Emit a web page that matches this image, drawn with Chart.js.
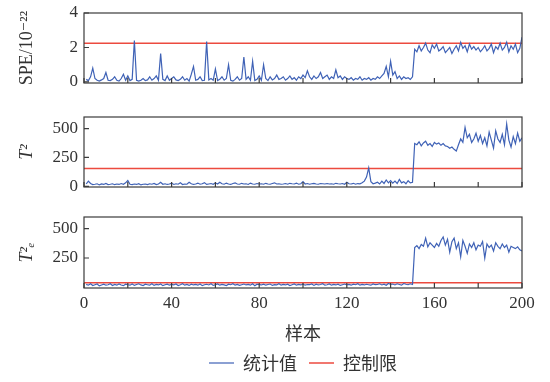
<!DOCTYPE html>
<html>
<head>
<meta charset="utf-8">
<script src="https://cdn.jsdelivr.net/npm/chart.js@4.4.1/dist/chart.umd.min.js"></script>
<style>
  body { margin: 0; background: #fff; width: 550px; height: 382px; overflow: hidden; position: relative; }
  canvas { position: absolute; left: 0; }
</style>
</head>
<body>
<canvas id="cSPE" width="550" height="100" style="top:0"></canvas>
<canvas id="cT2" width="550" height="100" style="top:100px"></canvas>
<canvas id="cT2e" width="550" height="182" style="top:200px"></canvas>
<script>
// === Data ===
const samples = Array.from({ length: 200 }, (_, i) => i + 1);
const xTicks = [0, 20, 40, 60, 80, 100, 120, 140, 160, 180, 200];

const speTicks = [0, 2, 4];
const t2Ticks = [0, 250, 500];
const t2eTicks = [250, 500];

const speLimit = 2.25;
const t2Limit = 155;
const t2eLimit = 38;

const speValues = [
  0.15, 0.08, 0.3, 0.8, 0.2, 0.1, 0.05, 0.12, 0.2, 0.55,
  0.1, 0.08, 0.15, 0.3, 0.1, 0.05, 0.2, 0.45, 0.1, 0.35,
  0.08, 0.15, 2.4, 0.1, 0.05, 0.1, 0.2, 0.08, 0.12, 0.3,
  0.1, 0.2, 0.35, 0.1, 1.65, 0.15, 0.08, 0.35, 0.1, 0.2,
  0.3, 0.12, 0.08, 0.15, 0.3, 0.1, 0.2, 0.05, 0.45, 0.9,
  0.1, 0.15, 0.3, 0.08, 0.1, 2.35, 0.12, 0.2, 0.1, 0.75,
  0.08, 0.15, 0.3, 0.1, 0.2, 1.0, 0.1, 0.05, 0.15, 0.3,
  0.1, 0.2, 1.45, 0.15, 0.3, 0.1, 1.2, 0.08, 0.15, 0.35,
  0.1, 1.0, 0.2, 0.08, 0.3, 0.12, 0.2, 0.4, 0.15, 0.2,
  0.3, 0.1, 0.2, 0.35, 0.15, 0.25, 0.1, 0.3, 0.2, 0.4,
  0.25, 0.65, 0.3, 0.15, 0.35, 0.2, 0.3, 0.55, 0.2, 0.3,
  0.4, 0.15, 0.3, 0.2, 0.7, 0.25, 0.35, 0.15, 0.3, 0.2,
  0.15, 0.25, 0.1, 0.2, 0.15, 0.3, 0.1, 0.2, 0.15, 0.25,
  0.1, 0.2, 0.15, 0.3, 0.2, 0.35, 0.5, 0.9, 0.3, 1.2,
  0.4, 0.6, 0.2, 0.35, 0.15, 0.3, 0.2, 0.25, 0.15, 0.3,
  1.9, 1.75, 2.1, 1.8, 2.0, 2.25, 1.85, 1.7, 2.15, 1.95,
  2.2, 1.8, 1.9, 2.05, 1.7, 1.85, 2.0, 1.65, 1.9, 2.1,
  1.8, 2.3, 1.95, 2.1, 1.75, 2.2, 1.9, 2.05, 1.85, 2.0,
  1.75, 1.9, 2.1, 1.8, 1.95, 2.2, 1.7, 2.05, 1.9, 2.25,
  1.85, 2.0, 2.3, 1.75, 2.1, 1.9, 2.2, 1.7, 1.95, 2.6
];

const t2Values = [
  20, 45, 25, 15, 18, 22, 12, 20, 16, 25,
  15, 18, 22, 14, 20, 16, 24, 18, 30, 50,
  18, 14, 20, 16, 22, 12, 18, 20, 15, 22,
  18, 25, 15, 20, 35, 18, 22, 16, 20, 28,
  16, 22, 18, 30, 15, 20, 18, 35, 22, 16,
  20, 28, 18, 22, 32, 16, 20, 24, 18, 30,
  20, 35, 22, 18, 28, 20, 16, 24, 30, 20,
  18, 26, 20, 22, 16, 28, 20, 18, 24, 20,
  22, 18, 26, 20, 18, 24, 30, 20, 22, 18,
  20, 24, 18, 26, 22, 20, 28, 18, 22, 40,
  20, 24, 18, 22, 26, 20, 18, 24, 22, 20,
  24, 20, 22, 18, 26, 22, 20, 24, 18, 35,
  22, 20, 26, 18, 24, 22, 30, 45, 80, 160,
  40, 22, 28, 35, 20, 45, 25, 55, 30, 50,
  28, 45, 25, 60, 30, 40, 22, 48, 30, 35,
  370, 360, 385, 350, 375, 390, 355, 370, 345, 380,
  365, 375, 355, 370, 350, 345, 330, 340, 320, 305,
  360, 410, 380, 510, 420, 450, 380, 410, 460, 390,
  440, 370, 420, 350, 470, 400, 330, 480, 410, 380,
  450, 360, 540, 400, 340, 430, 370, 460, 390, 420
];

const t2eValues = [
  25, 18, 30, 15, 22, 28, 12, 20, 26, 18,
  22, 30, 15, 24, 18, 28, 20, 14, 26, 22,
  18, 28, 16, 24, 30, 20, 15, 26, 22, 18,
  30, 16, 24, 20, 28, 14, 22, 26, 18, 24,
  20, 28, 15, 22, 30, 18, 24, 16, 26, 20,
  24, 18, 28, 14, 22, 26, 20, 30, 16, 22,
  28, 18, 24, 20, 15, 26, 22, 30, 18, 24,
  16, 22, 28, 20, 24, 18, 30, 14, 26, 22,
  20, 26, 18, 24, 28, 16, 22, 20, 30, 18,
  24, 20, 26, 15, 22, 28, 18, 24, 20, 26,
  18, 24, 22, 28, 16, 26, 20, 24, 30, 18,
  22, 28, 18, 24, 20, 26, 16, 22, 28, 20,
  24, 18, 26, 22, 30, 18, 24, 20, 26, 22,
  18, 28, 22, 24, 30, 20, 26, 18, 32, 24,
  28, 20, 30, 24, 18, 32, 26, 22, 30, 24,
  340, 355, 330, 365, 350, 420, 345, 380, 360, 340,
  375, 350, 400, 430, 360, 410, 300, 390, 420, 330,
  380, 260, 400, 350, 290, 370, 340, 380, 320, 360,
  350, 390, 250, 370, 340, 360, 310, 380, 350, 330,
  370, 340, 360, 300, 350, 340, 330, 345, 320, 310
];

// === Style ===
Chart.defaults.font.family = "'Liberation Serif', 'DejaVu Serif', serif";
Chart.defaults.color = '#333';
const BLUE = '#3f62b6';
const RED = '#ec4a3f';
const CJK = "'Noto Sans CJK SC', sans-serif";

// frame and inward ticks
const frameTicks = {
  id: 'frameTicks',
  afterDatasetsDraw(chart) {
    const { ctx, chartArea: a, scales: { x, y } } = chart;
    ctx.save();
    ctx.strokeStyle = '#3b3b3b';
    ctx.lineWidth = 1.2;
    ctx.strokeRect(a.left, a.top, a.width, a.height);
    ctx.beginPath();
    xTicks.forEach(v => {
      const px = x.getPixelForValue(v);
      ctx.moveTo(px, a.bottom);
      ctx.lineTo(px, a.bottom - 5);
    });
    y.ticks.forEach(t => {
      const py = y.getPixelForValue(t.value);
      ctx.moveTo(a.left, py);
      ctx.lineTo(a.left + 5, py);
    });
    ctx.stroke();
    ctx.restore();
  }
};

function makePanel(canvasId, values, limit, yMin, yMax, yTicks, yTitle, italic, padding, bottom) {
  const ctx = document.getElementById(canvasId).getContext('2d');
  return new Chart(ctx, {
    type: 'line',
    data: {
      datasets: [
        {
          label: '统计值',
          data: samples.map((s, i) => ({ x: s, y: values[i] })),
          borderColor: BLUE, borderWidth: 1.2, pointRadius: 0, tension: 0
        },
        {
          label: '控制限',
          data: [{ x: 0, y: limit }, { x: 200, y: limit }],
          borderColor: RED, borderWidth: 1.5, pointRadius: 0
        }
      ]
    },
    options: {
      responsive: false, animation: false,
      layout: { padding: padding },
      plugins: {
        tooltip: { enabled: false },
        legend: {
          display: bottom, position: 'bottom', fullSize: false,
          labels: {
            usePointStyle: true, pointStyle: 'line', pointStyleWidth: 25,
            padding: 12, color: '#333',
            font: { family: CJK, size: 18 }
          }
        }
      },
      scales: {
        x: {
          type: 'linear', min: 0, max: 200, display: bottom,
          afterBuildTicks: s => { s.ticks = xTicks.map(v => ({ value: v })); },
          afterFit: s => { s.height = bottom ? 54 : 0; },
          grid: { display: false, drawTicks: false },
          border: { display: false },
          ticks: {
            autoSkip: false, maxRotation: 0, padding: 5,
            font: { size: 17 },
            callback: v => (v % 40 === 0 ? v : '')
          },
          title: {
            display: true, text: '样本', padding: { top: 0, bottom: 0 },
            font: { family: CJK, size: 18, lineHeight: 1 }
          }
        },
        y: {
          min: yMin, max: yMax,
          afterBuildTicks: s => { s.ticks = yTicks.map(v => ({ value: v })); },
          afterFit: s => { s.width = 84; s.paddingTop = 0; s.paddingBottom = 0; },
          grid: { display: false, drawTicks: false },
          border: { display: false },
          ticks: { padding: 6, font: { size: 17 } },
          title: {
            display: true, text: yTitle, padding: { top: 16, bottom: 0 },
            font: { size: 18, style: italic ? 'italic' : 'normal' }
          }
        }
      }
    },
    plugins: [frameTicks]
  });
}

makePanel('cSPE', speValues, speLimit, -0.06, 4, speTicks, 'SPE/10⁻²²', false,
  { left: 0, right: 28, top: 13, bottom: 17 }, false);
makePanel('cT2', t2Values, t2Limit, -6, 600, t2Ticks, 'T²', true,
  { left: 0, right: 28, top: 17, bottom: 13 }, false);
makePanel('cT2e', t2eValues, t2eLimit, -6, 600, t2eTicks, 'T²ₑ', true,
  { left: 0, right: 28, top: 17, bottom: 0 }, true);
</script>
</body>
</html>
